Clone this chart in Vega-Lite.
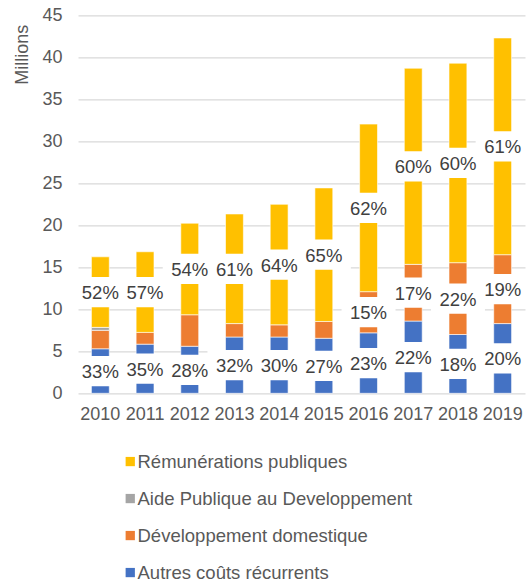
{
  "$schema": "https://vega.github.io/schema/vega-lite/v6.json",
  "autosize": {"type": "none"},
  "padding": {"left": 78, "top": 15.3, "right": 3, "bottom": 190.7},
  "width": 447,
  "height": 378,
  "config": {
    "font": "Liberation Sans",
    "view": {"stroke": null},
    "axis": {"labelFont": "Liberation Sans", "titleFont": "Liberation Sans"}
  },
  "data": {
    "values": [
      {"annee": "2010", "serie": "Autres coûts récurrents", "valeur": 5.3, "label": "33%"},
      {"annee": "2010", "serie": "Développement domestique", "valeur": 2.2, "label": ""},
      {"annee": "2010", "serie": "Aide Publique au Developpement", "valeur": 0.35, "label": ""},
      {"annee": "2010", "serie": "Rémunérations publiques", "valeur": 8.4, "label": "52%"},
      {"annee": "2011", "serie": "Autres coûts récurrents", "valeur": 5.85, "label": "35%"},
      {"annee": "2011", "serie": "Développement domestique", "valeur": 1.4, "label": ""},
      {"annee": "2011", "serie": "Rémunérations publiques", "valeur": 9.6, "label": "57%"},
      {"annee": "2012", "serie": "Autres coûts récurrents", "valeur": 5.6, "label": "28%"},
      {"annee": "2012", "serie": "Développement domestique", "valeur": 3.75, "label": ""},
      {"annee": "2012", "serie": "Rémunérations publiques", "valeur": 10.9, "label": "54%"},
      {"annee": "2013", "serie": "Autres coûts récurrents", "valeur": 6.7, "label": "32%"},
      {"annee": "2013", "serie": "Développement domestique", "valeur": 1.6, "label": ""},
      {"annee": "2013", "serie": "Rémunérations publiques", "valeur": 13.05, "label": "61%"},
      {"annee": "2014", "serie": "Autres coûts récurrents", "valeur": 6.7, "label": "30%"},
      {"annee": "2014", "serie": "Développement domestique", "valeur": 1.45, "label": ""},
      {"annee": "2014", "serie": "Rémunérations publiques", "valeur": 14.35, "label": "64%"},
      {"annee": "2015", "serie": "Autres coûts récurrents", "valeur": 6.55, "label": "27%"},
      {"annee": "2015", "serie": "Développement domestique", "valeur": 2.0, "label": ""},
      {"annee": "2015", "serie": "Rémunérations publiques", "valeur": 15.9, "label": "65%"},
      {"annee": "2016", "serie": "Autres coûts récurrents", "valeur": 7.2, "label": "23%"},
      {"annee": "2016", "serie": "Développement domestique", "valeur": 4.9, "label": "15%"},
      {"annee": "2016", "serie": "Rémunérations publiques", "valeur": 19.95, "label": "62%"},
      {"annee": "2017", "serie": "Autres coûts récurrents", "valeur": 8.6, "label": "22%"},
      {"annee": "2017", "serie": "Développement domestique", "valeur": 6.75, "label": "17%"},
      {"annee": "2017", "serie": "Rémunérations publiques", "valeur": 23.35, "label": "60%"},
      {"annee": "2018", "serie": "Autres coûts récurrents", "valeur": 7.0, "label": "18%"},
      {"annee": "2018", "serie": "Développement domestique", "valeur": 8.55, "label": "22%"},
      {"annee": "2018", "serie": "Rémunérations publiques", "valeur": 23.75, "label": "60%"},
      {"annee": "2019", "serie": "Autres coûts récurrents", "valeur": 8.3, "label": "20%"},
      {"annee": "2019", "serie": "Développement domestique", "valeur": 8.2, "label": "19%"},
      {"annee": "2019", "serie": "Rémunérations publiques", "valeur": 25.8, "label": "61%"}
    ]
  },
  "transform": [
    {"calculate": "indexof(['Autres coûts récurrents','Développement domestique','Aide Publique au Developpement','Rémunérations publiques'], datum.serie)", "as": "rang"}
  ],
  "encoding": {
    "x": {
      "field": "annee", "type": "ordinal",
      "scale": {"paddingInner": 0.6, "paddingOuter": 0.3},
      "axis": {"title": null, "labelAngle": 0, "domain": false, "ticks": false, "labelPadding": 12, "labelFontSize": 18, "labelColor": "#595959"}
    },
    "y": {
      "field": "valeur", "type": "quantitative", "stack": "zero",
      "scale": {"domain": [0, 45], "nice": false},
      "axis": {
        "title": "Millions", "values": [0,5,10,15,20,25,30,35,40,45],
        "domain": false, "ticks": false, "labelPadding": 16, "labelFontSize": 18, "labelColor": "#595959",
        "gridColor": "#D9D9D9", "gridWidth": 1.2,
        "titleFontSize": 18, "titleFontWeight": "normal", "titleColor": "#595959", "titleAnchor": "end", "titlePadding": 10, "titleY": 9
      }
    },
    "order": {"field": "rang", "type": "quantitative"}
  },
  "layer": [
    {
      "mark": {"type": "bar", "stroke": "white", "strokeWidth": 0.6},
      "encoding": {
        "color": {
          "field": "serie", "type": "nominal",
          "scale": {
            "domain": ["Rémunérations publiques", "Aide Publique au Developpement", "Développement domestique", "Autres coûts récurrents"],
            "range": ["#FFC000", "#A5A5A5", "#ED7D31", "#4472C4"]
          },
          "legend": {
            "title": null, "orient": "none", "legendX": 43, "legendY": 437,
            "direction": "vertical", "padding": 0,
            "symbolType": "square", "symbolSize": 86, "symbolStrokeWidth": 0,
            "labelFontSize": 18.5, "labelColor": "#595959", "labelFont": "Liberation Sans",
            "labelOffset": -2, "rowPadding": 18, "labelLimit": 0
          }
        }
      }
    },
    {
      "mark": {"type": "point", "shape": "M-1,-0.56H1V0.56H-1Z", "filled": true, "fill": "white", "size": 2916, "strokeWidth": 0},
      "encoding": {
        "y": {"field": "valeur", "type": "quantitative", "stack": "zero", "bandPosition": 0.5},
        "detail": {"field": "serie"},
        "opacity": {"condition": {"test": "datum.label == ''", "value": 0}, "value": 1}
      }
    },
    {
      "mark": {"type": "text", "fontSize": 18.5, "color": "#404040", "baseline": "middle", "dy": 1},
      "encoding": {
        "y": {"field": "valeur", "type": "quantitative", "stack": "zero", "bandPosition": 0.5},
        "detail": {"field": "serie"},
        "text": {"field": "label"}
      }
    }
  ]
}
